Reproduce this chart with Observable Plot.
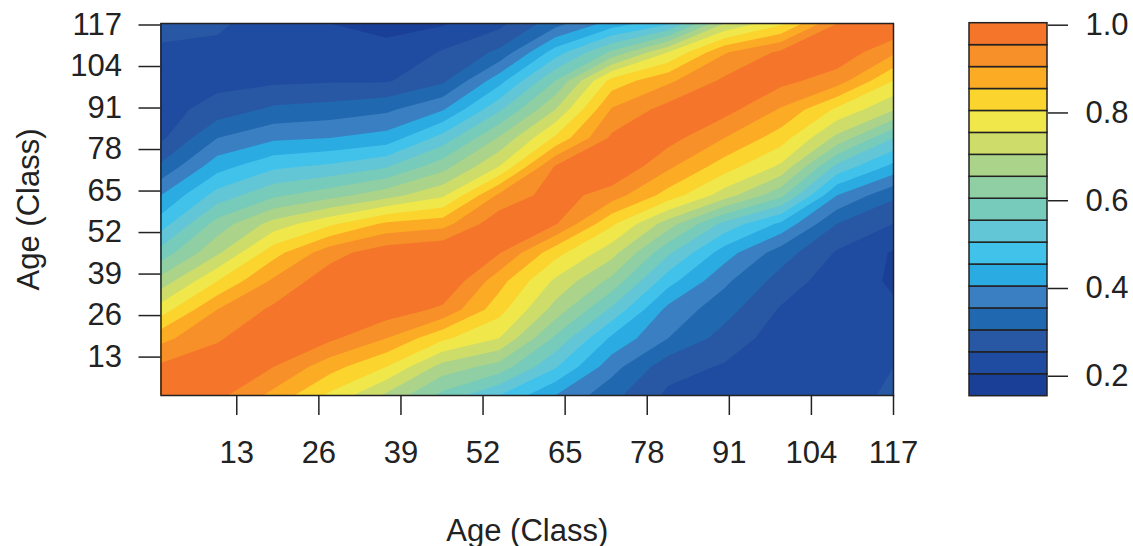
<!DOCTYPE html>
<html><head><meta charset="utf-8">
<script src="https://cdn.jsdelivr.net/npm/d3@7"></script>
<script src="https://cdn.jsdelivr.net/npm/@observablehq/plot@0.6"></script>
<style>
html,body{margin:0;padding:0;background:#fff;overflow:hidden}
#c{position:relative;width:1133px;height:546px}
#c svg{position:absolute;left:0;top:0;background:transparent}
</style></head><body><div id="c"></div>
<script>
const ageTicks = [13,26,39,52,65,78,91,104,117];
const levels = [0.15,0.2,0.25,0.3,0.35,0.4,0.45,0.5,0.55,0.6,0.65,0.7,0.75,0.8,0.85,0.9,0.95,1.0];
const bandColors = ["#1A3F96","#1F4CA0","#2857A4","#2068B0","#3A7FC1","#2AABE2","#41C2EB","#63C6D6","#76CBBB","#8FCFA3","#ABD38A","#CEDD6A","#F0E84B","#FBD52E","#FCAC24","#F79029","#F5752A"];
const legendTicks = [0.2,0.4,0.6,0.8,1.0];
const gridCols = 14, gridRows = 14;
// similarity, bottom row first, left to right
const row00 = [1.00,.965,.885,.79,.69,.585,.50,.40,.315,.24,.225,.215,.215,.265];
const row01 = [.96,.975,.95,.87,.80,.68,.63,.505,.37,.27,.245,.22,.215,.25];
const row02 = [.885,.945,.985,.96,.90,.81,.75,.59,.44,.35,.28,.225,.215,.225];
const row03 = [.775,.90,.96,1.0,.98,.94,.82,.68,.54,.385,.32,.245,.215,.205];
const row04 = [.67,.80,.91,.98,1.0,1.0,.87,.74,.635,.47,.36,.28,.22,.195];
const row05 = [.57,.69,.83,.93,.98,1.0,.955,.82,.72,.56,.425,.325,.245,.195];
const row06 = [.475,.62,.72,.79,.86,.88,.985,.955,.81,.675,.535,.44,.30,.25];
const row07 = [.40,.52,.59,.63,.68,.74,.91,.975,.925,.83,.725,.615,.40,.31];
const row08 = [.31,.43,.49,.51,.545,.63,.75,.955,1.0,.91,.825,.74,.535,.435];
const row09 = [.24,.35,.39,.40,.42,.52,.655,.81,.96,.97,.90,.825,.685,.55];
const row10 = [.23,.27,.31,.32,.34,.395,.54,.70,.905,.97,.97,.895,.79,.705];
const row11 = [.23,.235,.24,.245,.245,.29,.43,.60,.82,.89,.96,.965,.925,.80];
const row12 = [.235,.235,.225,.21,.205,.255,.31,.475,.61,.75,.895,.96,.985,.91];
const row13 = [.28,.26,.22,.20,.195,.195,.235,.33,.42,.49,.70,.79,.95,1.0];
const values = [row00,row01,row02,row03,row04,row05,row06,row07,row08,row09,row10,row11,row12,row13].flat();

const FONT = "'Liberation Sans', Arial, sans-serif";
const FS = 31, INK = "#222";
const dx = 116/(gridCols-1);
const colorScale = {type:"threshold", domain: levels.slice(1,-1), range: bandColors};

const main = Plot.plot({
  width:1133, height:546,
  marginLeft:160.5, marginRight:240, marginTop:23, marginBottom:151,
  style:{fontFamily:FONT, fontSize:FS+"px", color:INK, background:"transparent"},
  x:{domain:[1,117], label:null},
  y:{domain:[0.5,117], label:null},
  color:colorScale,
  marks:[
    Plot.contour(values,{
      width:gridCols, height:gridRows,
      x1:1-dx/2, x2:117+dx/2, y1:0.5-dx/2, y2:117+dx/2,
      value:Plot.identity, fill:"value",
      thresholds:levels.slice(0,-1), clip:true
    }),
    Plot.frame({stroke:INK, strokeWidth:1.5}),
    Plot.axisX(ageTicks,{anchor:"bottom",tickSize:20,tickPadding:25,strokeWidth:1.5,stroke:INK,fontSize:FS,
      fill:INK,label:"Age (Class)",labelAnchor:"center",labelArrow:"none",labelOffset:145,tickFormat:d=>d}),
    Plot.axisY(ageTicks,{anchor:"left",tickSize:22,tickPadding:17,dy:1.5,strokeWidth:1.5,stroke:INK,fontSize:FS,
      fill:INK,label:"Age (Class)",labelAnchor:"center",labelArrow:"none",labelOffset:144,tickFormat:d=>d})
  ]
});

const bands = bandColors.map((c,i)=>({lo:levels[i],hi:levels[i+1],mid:(levels[i]+levels[i+1])/2}));
const legend = Plot.plot({
  width:1133, height:546,
  marginLeft:969, marginRight:86, marginTop:22.7, marginBottom:150.3,
  style:{fontFamily:FONT, fontSize:FS+"px", color:INK, background:"transparent"},
  x:{axis:null, domain:[0,1]},
  y:{domain:[0.15,1.0], label:null},
  color:colorScale,
  marks:[
    Plot.rect(bands,{x1:0,x2:1,y1:"lo",y2:"hi",fill:"mid",stroke:INK,strokeWidth:1.5}),
    Plot.axisY(legendTicks,{anchor:"right",tickSize:20,tickPadding:18,dy:2,strokeWidth:1.5,stroke:INK,fontSize:FS,fill:INK,tickFormat:".1f",label:null})
  ]
});
const c = document.getElementById("c");
c.append(main); c.append(legend);
</script></body></html>
